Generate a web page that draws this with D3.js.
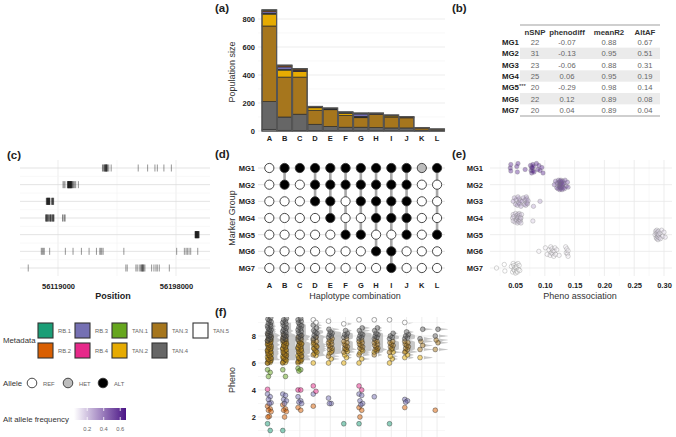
<!DOCTYPE html>
<html>
<head>
<meta charset="utf-8">
<script src="https://cdn.jsdelivr.net/npm/d3@7"></script>
<style>
  body { margin: 0; background: #fff; }
  svg { font-family: "Liberation Sans", Arial, sans-serif; }
</style>
</head>
<body>
<svg id="fig" width="676" height="437"></svg>
<script>
// ---------- data ----------
const haplos = ["A","B","C","D","E","F","G","H","I","J","K","L"];
const markerGroups = ["MG1","MG2","MG3","MG4","MG5","MG6","MG7"];
const metaGroups = ["RB.1","RB.2","RB.3","RB.4","TAN.1","TAN.2","TAN.3","TAN.4","TAN.5"];
const metaColors = ["#1B9E77","#D95F02","#7570B3","#E7298A","#66A61E","#E6AB02","#A6761D","#666666","#FFFFFF"];

// (a) population size per haplotype combination
const popRB1  = [3, 4, 2, 0, 0, 2, 2, 0, 0, 0, 0, 0];
const popRB2  = [10, 8, 8, 5, 5, 4, 4, 6, 3, 4, 3, 1];
const popRB3  = [12, 18, 6, 2, 2, 3, 18, 2, 3, 4, 0, 0];
const popRB4  = [2, 0, 2, 2, 0, 0, 2, 0, 0, 0, 0, 0];
const popTAN1 = [3, 5, 2, 0, 0, 0, 2, 0, 0, 0, 0, 0];
const popTAN2 = [85, 50, 40, 18, 5, 15, 5, 0, 8, 0, 0, 0];
const popTAN3 = [540, 285, 265, 100, 120, 85, 68, 96, 78, 72, 15, 9];
const popTAN4 = [198, 95, 117, 45, 30, 25, 25, 22, 20, 20, 5, 3];
const popTAN5 = [12, 5, 3, 3, 2, 2, 2, 2, 2, 2, 1, 1];

// (b) marker group table
const tableCols = ["nSNP","phenodiff","meanR2","AltAF"];
const nSNP = [22, 31, 23, 25, 20, 22, 20];
const phenodiff = ["-0.07","-0.13","-0.06","0.06","-0.29","0.12","0.04"];
const meanR2 = ["0.88","0.95","0.88","0.95","0.98","0.89","0.89"];
const altAF = [0.67, 0.51, 0.31, 0.19, 0.14, 0.08, 0.04];

// (c) SNP positions per marker group
const snpMG1 = [56148770,56149200,56149700,56150100,56150300,56150600,56150800,56151000,56151200,56151400,56151500,
  56151700,56151900,56152300,56153000,56154600,56172700,56179000,56183900,56185500,56189900,56194900];
const snpMG2 = [56122360,56123030,56123700,56125270,56125490,56125710,56125830,56125940,56126050,56126160,56126390,
  56126500,56126610,56126830,56126950,56127060,56127170,56127280,56127500,56127620,56127730,56127840,56127950,
  56128180,56128400,56128620,56129070,56129520,56130190,56130860,56132650];
const snpMG3 = [56111170,56111390,56111610,56111840,56111950,56112060,56112290,56112400,56112510,56112730,56112850,
  56112960,56113180,56113290,56113410,56113630,56114750,56114970,56115200,56115420,56115640,56115870,56116090];
const snpMG4 = [56110720,56110940,56111170,56111390,56111610,56111840,56112060,56112510,56112730,56113410,56113630,
  56113850,56114080,56114300,56114520,56115200,56115420,56115640,56115870,56116090,56116310,56122130,56122360,
  56123480,56123700];
const snpMG5 = [56210760,56210900,56211050,56211180,56211300,56211420,56211550,56211700,56211830,56211950,56212100,
  56212230,56212380,56212500,56212650,56212800,56212950,56213100,56213280,56213440];
const snpMG6 = [56107810,56108480,56109150,56109820,56113410,56123920,56129070,56134670,56139810,56144740,56146980,
  56147650,56148320,56149210,56163090,56198450,56203600,56204720,56205610,56206730,56207850,56212550];
const snpMG7 = [56099080,56164430,56165330,56171150,56172040,56173380,56174280,56174950,56175170,56175620,56175850,
  56176070,56176520,56177190,56181660,56183230,56184570,56185470,56186810,56193530];
const positionTicks = [56119000, 56198000];

// (d) allele calls per marker group, one letter per haplotype combination (R = REF, H = HET, A = ALT)
const alleleCalls = ["RAAAAAAAAAHA","RARAAAAAAARR","RRRAARAAAARR","RRRRARRAAARR","RRRRRAARRARA","RRRRRRRAARRR","RRRRRRRRARRR"];

// (e) pheno association per SNP
const assocMG1 = [0.042,0.043,0.043,0.053,0.054,0.055,0.067,0.076,0.077,0.078,0.078,0.079,0.080,0.080,0.081,0.082,0.086,0.088,0.090,0.092,0.095,0.097];
const assocMG2 = [0.116,0.118,0.120,0.121,0.122,0.123,0.124,0.124,0.125,0.125,0.125,0.126,0.126,0.126,0.127,0.127,
  0.127,0.128,0.128,0.128,0.129,0.129,0.130,0.130,0.131,0.132,0.133,0.134,0.136,0.138,0.139];
const assocMG3 = [0.047,0.049,0.051,0.052,0.054,0.055,0.056,0.057,0.058,0.059,0.060,0.062,0.064,0.066,0.067,0.068,0.069,0.070,0.070,0.071,0.072,0.081,0.092];
const assocMG4 = [0.046,0.047,0.047,0.048,0.050,0.051,0.052,0.053,0.053,0.054,0.054,0.055,0.055,0.056,0.056,0.057,0.057,0.058,0.058,0.059,0.059,0.060,0.060,0.061,0.080];
const assocMG5 = [0.285,0.286,0.287,0.287,0.288,0.288,0.289,0.289,0.290,0.290,0.290,0.291,0.291,0.292,0.293,0.294,0.296,0.298,0.300,0.302];
const assocMG6 = [0.090,0.101,0.104,0.107,0.109,0.110,0.111,0.112,0.113,0.114,0.115,0.116,0.117,0.118,0.120,0.124,0.135,0.136,0.137,0.138,0.139,0.139];
const assocMG7 = [0.019,0.032,0.033,0.044,0.046,0.047,0.048,0.048,0.049,0.050,0.051,0.052,0.052,0.053,0.053,0.054,0.055,0.056,0.057,0.058];

// (f) phenotype of individuals, per haplotype combination (A..L), per metadata group
const phenoRB1 = [[1.5,1.0],[1.0],[],[],[],[1.5],[1.5],[],[1.5],[],[],[]];
const phenoRB2 = [[2.8,2.6,2.5,2.4,2.05,2.0],[2.9,2.6,2.5,2.4,2.0],[2.7,2.5],[2.8],[],[],[2.7,2.5,2.0],[],[],[2.7],[],[2.5]];
const phenoRB3 = [[3.7,3.5,3.3,3.05,3.0],[3.7,3.6,3.3,3.2,3.0],[3.5,3.2,3.1,3.0],[3.7],[3.4,3.0,3.0],[],[3.7,3.6,3.2,3.0,2.9],[3.5],[],[3.3,3.2,3.1],[],[]];
const phenoRB4 = [[4.05],[],[4.0,4.0],[4.3,3.9],[],[],[4.3,4.0],[],[],[],[],[]];
const phenoTAN1 = [[5.5,5.3,5.0],[5.5,5.0],[5.6,5.5,5.4],[],[],[],[],[],[],[],[],[]];
const phenoTAN2 = [
  [6.0,6.05,6.1,6.2,6.25,6.3,6.4,6.45,6.5,6.6,6.65,6.7,6.8,6.85,6.9,7.0,7.05,7.1,7.2,7.3,7.35,7.4,7.5,7.6,7.7],
  [6.0,6.05,6.15,6.2,6.3,6.35,6.45,6.5,6.6,6.7,6.75,6.85,6.9,7.0,7.1,7.15,7.25,7.35,7.4,7.5,7.6],
  [6.0,6.1,6.15,6.25,6.3,6.4,6.5,6.55,6.65,6.75,6.8,6.9,7.0,7.05,7.15,7.25,7.35,7.45,7.5],
  [6.0,6.55,6.7,6.8,6.95,7.1,7.25,7.4],[6.0,6.3,6.7,6.9],[6.0,6.4,6.6,6.85,7.0],[6.0,6.3,6.75,6.9],[6.8,7.0],
  [6.0,6.3,6.5,6.8,7.0],[6.4,6.6,6.85],[6.4],[]];
const phenoTAN3 = [
  [6.0,6.15,6.25,6.35,6.55,6.7,6.8,6.95,7.05,7.15,7.25,7.35,7.45,7.55,7.65,7.75,7.85,7.95,8.05,8.15],
  [6.05,6.25,6.4,6.55,6.65,6.8,6.95,7.05,7.2,7.3,7.45,7.55,7.65,7.75,7.85,7.95,8.1],
  [6.1,6.2,6.35,6.5,6.7,6.85,6.95,7.1,7.2,7.3,7.4,7.55,7.65,7.75,7.9,8.0],
  [6.6,6.9,7.05,7.2,7.35,7.5,7.6,7.7,7.9],[6.5,6.8,7.0,7.1,7.2,7.3,7.4,7.5,7.6,7.7,7.8],[6.8,7.0,7.1,7.2,7.3,7.4,7.5,7.6,7.8],
  [6.6,7.0,7.1,7.2,7.3,7.4,7.5,7.6,7.7],[6.6,6.9,7.0,7.1,7.2,7.3,7.4,7.5,7.6,7.7],[6.8,7.1,7.2,7.3,7.4,7.5,7.6],
  [6.8,7.0,7.1,7.2,7.3,7.4,7.5,7.6],[7.0,7.3,7.6],[7.0,7.5,7.7]];
const phenoTAN4 = [
  [7.65,7.75,7.8,7.9,8.0,8.05,8.1,8.2,8.3,8.35,8.45,8.5,8.6,8.7,8.75,8.85,8.95,9.05,9.15,9.25,9.35],
  [7.7,7.8,7.9,8.0,8.05,8.15,8.25,8.35,8.4,8.5,8.6,8.7,8.8,8.9,9.0,9.1,9.2,9.3],
  [7.75,7.85,7.95,8.05,8.15,8.25,8.35,8.45,8.55,8.65,8.75,8.85,9.0,9.1,9.2,9.3],
  [7.8,7.95,8.05,8.2,8.3,8.4,8.6,8.8],[7.9,8.0,8.1,8.2,8.3,8.5],[7.9,8.0,8.1,8.2,8.4],[7.8,7.9,8.0,8.1,8.2,8.4,8.6],
  [7.8,7.9,8.0,8.1,8.2,8.4,8.6],[7.8,7.9,8.0,8.2],[7.8,7.9,8.0,8.1,8.3],[7.8,8.5],[8.0,8.5]];
const phenoTAN5 = [[],[],[],[9.2,9.0],[9.1],[8.9],[9.2],[9.2],[9.2],[9.0],[],[]];

// ---------- shared setup ----------
const svg = d3.select("#fig");
const GRID = "#e8e8e8", MINOR = "#f3f3f3", TXT = "#222";
const TICK = 7.5, TITLE = 9;

const hapX = d3.scaleBand().domain(haplos).range([261.4, 445]).padding(0.04);
const hapC = h => hapX(h) + hapX.bandwidth() / 2;
const mgY = d3.scalePoint().domain(markerGroups).range([168, 268]);
const afColor = d3.scaleLinear().domain([0.04, 0.67]).range(["#ffffff", "#4a1486"]).interpolate(d3.interpolateRgb);

function line(g, x1, y1, x2, y2, color, w){
  return g.append("line").attr("x1", x1).attr("y1", y1).attr("x2", x2).attr("y2", y2)
    .attr("stroke", color).attr("stroke-width", w);
}
function text(g, x, y, s, size, opts = {}){
  return g.append("text").attr("x", x).attr("y", y).text(s)
    .attr("font-size", size).attr("fill", opts.fill || TXT)
    .attr("font-weight", opts.weight || "normal")
    .attr("text-anchor", opts.anchor || "start");
}
function styleAxis(a, size){
  a.select(".domain").remove();
  a.selectAll("text").attr("font-size", size).attr("font-weight", "bold").attr("fill", TXT)
    .attr("font-family", "Liberation Sans, Arial, sans-serif");
}

// ---------- (a) population size ----------
function drawPopulation(){
  const g = svg.append("g");
  const y = d3.scaleLinear().domain([0, 800]).range([131, 19]);
  [100, 300, 500, 700].forEach(v => line(g, 258, y(v), 445, y(v), MINOR, 0.6));
  [0, 200, 400, 600, 800].forEach(v => line(g, 258, y(v), 445, y(v), GRID, 0.8));
  haplos.forEach(h => line(g, hapC(h), 4, 133, GRID, 0.8));

  const counts = [popRB1, popRB2, popRB3, popRB4, popTAN1, popTAN2, popTAN3, popTAN4, popTAN5];
  const rows = haplos.map((h, i) => {
    const r = { hap: h };
    metaGroups.forEach((m, j) => r[m] = counts[j][i]);
    return r;
  });
  const stackOrder = metaGroups.slice().reverse(); // TAN.5 at the bottom
  const series = d3.stack().keys(stackOrder)(rows);

  series.forEach(s => {
    const col = metaColors[metaGroups.indexOf(s.key)];
    g.selectAll(null).data(s.filter(d => d[1] > d[0])).enter().append("rect")
      .attr("x", d => hapX(d.data.hap))
      .attr("width", hapX.bandwidth())
      .attr("y", d => y(d[1]))
      .attr("height", d => y(d[0]) - y(d[1]))
      .attr("fill", col)
      .attr("stroke", "#2b2b2b").attr("stroke-width", 0.7);
  });
  // outer frame of each bar
  g.selectAll(null).data(rows).enter().append("rect")
    .attr("x", d => hapX(d.hap)).attr("width", hapX.bandwidth())
    .attr("y", d => y(d3.sum(metaGroups, m => d[m])))
    .attr("height", d => y(0) - y(d3.sum(metaGroups, m => d[m])))
    .attr("fill", "none").attr("stroke", "#555").attr("stroke-width", 1.3);

  g.append("g").attr("transform", "translate(258,0)")
    .call(d3.axisLeft(y).tickValues([0, 200, 400, 600, 800]).tickSize(0).tickPadding(3))
    .call(a => styleAxis(a, TICK));
  g.append("g").attr("transform", "translate(0,133)")
    .call(d3.axisBottom(hapX).tickSize(0).tickPadding(3))
    .call(a => styleAxis(a, TICK));
  text(g, 0, 0, "Population size", TITLE, { anchor: "middle", fill: "#333" })
    .attr("transform", "translate(235,72) rotate(-90)");
  text(g, 215, 12, "(a)", 11.5, { weight: "bold" });
}

// ---------- (b) table ----------
function drawTable(){
  const g = svg.append("g");
  const rowY = d3.scalePoint().domain(markerGroups).range([42, 110]);
  const colX = d3.scaleOrdinal().domain(tableCols).range([535, 567, 609, 645]);
  markerGroups.forEach((m, i) => {
    if (i % 2 === 1) g.append("rect").attr("x", 520).attr("y", rowY(m) - 5.7)
      .attr("width", 140).attr("height", 11.4).attr("fill", "#ebebeb");
  });
  line(g, 520, 25, 660, 25, "#a0a0a0", 1.2);
  line(g, 520, 116, 660, 116, "#a0a0a0", 1.2);
  tableCols.forEach(c => text(g, colX(c), 35, c, 7.8, { anchor: "middle", weight: "600", fill: "#333" }));
  markerGroups.forEach((m, i) => {
    const yy = rowY(m) + 3;
    const lab = text(g, 502, yy, m, 7.8, { weight: "bold" });
    if (m === "MG5") lab.append("tspan").attr("dy", -2.5).attr("font-size", 6).attr("font-weight", "normal").text("***");
    const vals = [nSNP[i], phenodiff[i], meanR2[i], altAF[i].toFixed(2)];
    tableCols.forEach((c, j) => text(g, colX(c), yy, vals[j], 7.6, { anchor: "middle", fill: "#666" }));
  });
  text(g, 452, 12, "(b)", 11.5, { weight: "bold" });
}

// ---------- (c) SNP positions ----------
function drawPositions(){
  const g = svg.append("g");
  const x = d3.scaleLinear().domain([56093560, 56220760]).range([20, 210]);
  line(g, x(56158500), 160, x(56158500), 276, MINOR, 0.7);
  positionTicks.forEach(p => line(g, x(p), 160, x(p), 276, GRID, 0.8));
  const snps = [snpMG1, snpMG2, snpMG3, snpMG4, snpMG5, snpMG6, snpMG7];
  markerGroups.forEach((m, i) => {
    line(g, 20, mgY(m), 210, mgY(m), "#dcdcdc", 0.8);
    if (i < 6) line(g, 20, mgY(m) + 8.4, 210, mgY(m) + 8.4, MINOR, 0.6);
    g.selectAll(null).data(snps[i]).enter().append("line")
      .attr("x1", d => x(d)).attr("x2", d => x(d))
      .attr("y1", mgY(m) - 3.5).attr("y2", mgY(m) + 3.5)
      .attr("stroke", "#111").attr("stroke-opacity", 0.55).attr("stroke-width", 0.8);
  });
  g.append("g").attr("transform", "translate(0,280)")
    .call(d3.axisBottom(x).tickValues(positionTicks).tickFormat(d3.format("d")).tickSize(0).tickPadding(4))
    .call(a => styleAxis(a, TICK));
  text(g, 113, 299, "Position", TITLE, { anchor: "middle", weight: "bold" });
  text(g, 7, 159, "(c)", 11.5, { weight: "bold" });
}

// ---------- (d) haplotype matrix ----------
function drawMatrix(){
  const g = svg.append("g");
  haplos.forEach(h => line(g, hapC(h), 160, hapC(h), 276, MINOR, 0.7));
  markerGroups.forEach(m => line(g, 258, mgY(m), 445, mgY(m), "#d8d8d8", 0.8));

  const cells = [];
  markerGroups.forEach((m, i) => haplos.forEach((h, j) => cells.push({ mg: m, hap: h, call: alleleCalls[i][j] })));

  // connector from first to last non-REF marker group in each column
  haplos.forEach(h => {
    const hit = cells.filter(c => c.hap === h && c.call !== "R");
    if (hit.length > 1) {
      const ys = hit.map(c => mgY(c.mg));
      line(g, hapC(h), d3.min(ys), hapC(h), d3.max(ys), "#a8a8a8", 2.6);
    }
  });
  const fill = { R: "#ffffff", H: "#bdbdbd", A: "#000000" };
  g.selectAll(null).data(cells).enter().append("circle")
    .attr("cx", d => hapC(d.hap)).attr("cy", d => mgY(d.mg)).attr("r", 4.6)
    .attr("fill", d => fill[d.call]).attr("stroke", "#333").attr("stroke-width", 0.9);

  g.append("g").attr("transform", "translate(258,0)")
    .call(d3.axisLeft(mgY).tickSize(0).tickPadding(3)).call(a => styleAxis(a, TICK));
  g.append("g").attr("transform", "translate(0,280)")
    .call(d3.axisBottom(hapX).tickSize(0).tickPadding(3)).call(a => styleAxis(a, TICK));
  text(g, 0, 0, "Marker Group", TITLE, { anchor: "middle", fill: "#333" })
    .attr("transform", "translate(235,218) rotate(-90)");
  text(g, 355, 299, "Haplotype combination", TITLE, { anchor: "middle", fill: "#333" });
  text(g, 215, 158, "(d)", 11.5, { weight: "bold" });
}

// ---------- (e) pheno association ----------
function drawAssociation(){
  const g = svg.append("g");
  const x = d3.scaleLinear().domain([0.05, 0.30]).range([515, 664]);
  [0.025, 0.075, 0.125, 0.175, 0.225, 0.275].forEach(v => line(g, x(v), 160, x(v), 276, MINOR, 0.6));
  x.ticks(6).forEach(v => line(g, x(v), 160, x(v), 276, GRID, 0.8));
  markerGroups.forEach(m => line(g, 490, mgY(m), 672, mgY(m), GRID, 0.8));

  const assoc = [assocMG1, assocMG2, assocMG3, assocMG4, assocMG5, assocMG6, assocMG7];
  const jit = [0, -3.5, 3, -1.5, 4, -4.5, 1.5, -2.5, 2.5, -0.5, 5];
  markerGroups.forEach((m, i) => {
    g.selectAll(null).data(assoc[i]).enter().append("circle")
      .attr("cx", d => x(d)).attr("cy", (d, k) => mgY(m) + jit[k % jit.length]).attr("r", 2.2)
      .attr("fill", afColor(altAF[i])).attr("fill-opacity", 0.4)
      .attr("stroke", "#777").attr("stroke-opacity", 0.5).attr("stroke-width", 0.6);
  });
  g.append("g").attr("transform", "translate(486,0)")
    .call(d3.axisLeft(mgY).tickSize(0).tickPadding(3)).call(a => styleAxis(a, TICK));
  g.append("g").attr("transform", "translate(0,280)")
    .call(d3.axisBottom(x).tickValues([0.05, 0.10, 0.15, 0.20, 0.25, 0.30]).tickFormat(d3.format(".2f")).tickSize(0).tickPadding(3))
    .call(a => styleAxis(a, TICK));
  text(g, 580, 299, "Pheno association", TITLE, { anchor: "middle", fill: "#333" });
  text(g, 452, 158, "(e)", 11.5, { weight: "bold" });
}

// ---------- (f) phenotype by haplotype combination ----------
function drawPheno(){
  const g = svg.append("g");
  const y = d3.scaleLinear().domain([2, 8]).range([417, 336]);
  svg.append("clipPath").attr("id", "clipF").append("rect")
    .attr("x", 258).attr("y", 317).attr("width", 192).attr("height", 125);
  const inner = g.append("g").attr("clip-path", "url(#clipF)");
  [1, 3, 5, 7, 9].forEach(v => line(inner, 258, y(v), 445, y(v), MINOR, 0.6));
  [2, 4, 6, 8].forEach(v => line(inner, 258, y(v), 445, y(v), GRID, 0.8));
  haplos.forEach(h => line(inner, hapC(h), 317, hapC(h), 437, GRID, 0.8));

  const pheno = [phenoRB1, phenoRB2, phenoRB3, phenoRB4, phenoTAN1, phenoTAN2, phenoTAN3, phenoTAN4, phenoTAN5];
  const grid = d3.range(6.2, 9.0, 0.02);
  const bw = 0.05;

  haplos.forEach((h, i) => {
    const cx = hapC(h);
    const all = pheno.flatMap(p => p[i]).filter(v => v > 6);
    // half violin to the right of the points
    const dens = grid.map(t => [t, d3.mean(all, v => Math.exp(-0.5 * ((t - v) / bw) ** 2))]);
    const dmax = d3.max(dens, d => d[1]);
    inner.append("path").datum(dens)
      .attr("d", d3.area().curve(d3.curveLinear)
        .y(d => y(d[0])).x0(cx + 2).x1(d => cx + 2 + 9 * d[1] / dmax))
      .attr("fill", "#9a9a9a").attr("fill-opacity", 0.55);
  });

  const jit = [-1.8, 0.9, -0.9, 1.8, 0, -1.4, 1.4];
  haplos.forEach((h, i) => {
    pheno.forEach((p, j) => {
      inner.selectAll(null).data(p[i]).enter().append("circle")
        .attr("cx", (d, k) => hapC(h) + jit[k % jit.length]).attr("cy", d => y(d)).attr("r", 2.4)
        .attr("fill", metaColors[j]).attr("fill-opacity", 0.5)
        .attr("stroke", "#222").attr("stroke-opacity", 0.55).attr("stroke-width", 0.7);
    });
  });

  g.append("g").attr("transform", "translate(259,0)")
    .call(d3.axisLeft(y).tickValues([2, 4, 6, 8]).tickFormat(d3.format("d")).tickSize(0).tickPadding(3))
    .call(a => styleAxis(a, TICK));
  text(g, 0, 0, "Pheno", TITLE, { anchor: "middle", fill: "#333" })
    .attr("transform", "translate(235,380) rotate(-90)");
  text(g, 215, 316, "(f)", 11.5, { weight: "bold" });
}

// ---------- legends ----------
function drawLegends(){
  const g = svg.append("g");
  text(g, 3, 343, "Metadata", 7.8, { fill: "#333" });
  const colXs = [38, 75, 112, 152, 193];
  metaGroups.forEach((m, i) => {
    const col = Math.floor(i / 2), row = i % 2;
    const sx = colXs[col], sy = row === 0 ? 323 : 343;
    g.append("rect").attr("x", sx).attr("y", sy).attr("width", 15).attr("height", 15)
      .attr("fill", metaColors[i]).attr("stroke", "#333").attr("stroke-width", 1.1);
    text(g, sx + 20, sy + 10, m, 5.8, { fill: "#666" });
  });

  text(g, 3, 386, "Allele", 7.8, { fill: "#333" });
  const alleles = [["REF", "#ffffff", 32], ["HET", "#bdbdbd", 68], ["ALT", "#000000", 103]];
  alleles.forEach(a => {
    g.append("circle").attr("cx", a[2]).attr("cy", 383).attr("r", 4.8)
      .attr("fill", a[1]).attr("stroke", "#333").attr("stroke-width", 0.9);
    text(g, a[2] + 11, 385.5, a[0], 5.8, { fill: "#666" });
  });

  text(g, 3, 422, "Alt allele frequency", 7.8, { fill: "#333" });
  const cb = d3.scaleLinear().domain([0.04, 0.67]).range([74, 126]);
  const grad = svg.append("defs").append("linearGradient").attr("id", "afGrad");
  d3.range(0, 1.01, 0.1).forEach(t => grad.append("stop")
    .attr("offset", t).attr("stop-color", afColor(0.04 + t * 0.63)));
  g.append("rect").attr("x", cb(0.04)).attr("y", 408).attr("width", cb(0.67) - cb(0.04)).attr("height", 12)
    .attr("fill", "url(#afGrad)");
  [0.2, 0.4, 0.6].forEach(v => {
    line(g, cb(v), 408, cb(v), 411, "#fff", 0.8);
    line(g, cb(v), 417, cb(v), 420, "#fff", 0.8);
    text(g, cb(v), 431, v.toFixed(1), 5.8, { anchor: "middle", fill: "#666" });
  });
}

drawPopulation();
drawTable();
drawPositions();
drawMatrix();
drawAssociation();
drawPheno();
drawLegends();
</script>
</body>
</html>
